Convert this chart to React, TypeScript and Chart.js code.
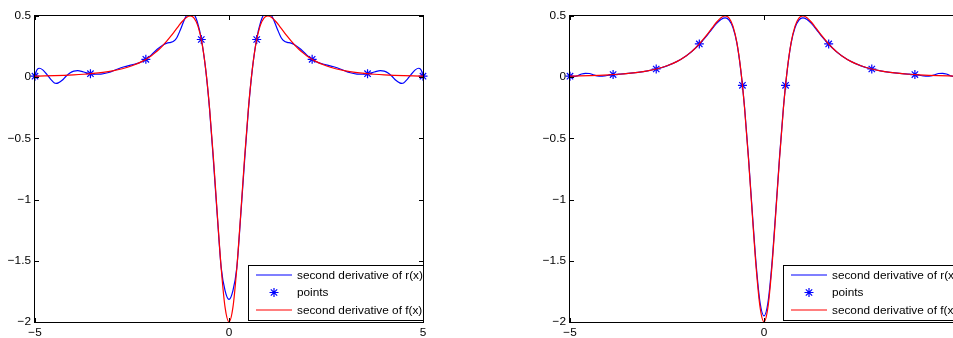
import React, { useEffect, useRef } from "react";
import { Chart, registerables } from "chart.js";

Chart.register(...registerables);

const FONT = "'Liberation Sans', Arial, Helvetica, sans-serif";
const FS = 11.8;

const legendLabels = ["second derivative of r(x)", "points", "second derivative of f(x)"];
const xTicks = [-5, 0, 5];
const yTicks = [-2, -1.5, -1, -0.5, 0, 0.5];

// second derivative of f(x) (red)
const fX = [-5, -4.75, -4.5, -4.25, -4, -3.75, -3.5, -3.25, -3, -2.75, -2.5, -2.25, -2, -1.9, -1.8, -1.7, -1.6, -1.5, -1.4, -1.3, -1.2, -1.1, -1, -0.9, -0.8, -0.7, -0.6, -0.5, -0.4, -0.3, -0.2, -0.1, 0, 0.1, 0.2, 0.3, 0.4, 0.5, 0.6, 0.7, 0.8, 0.9, 1, 1.1, 1.2, 1.3, 1.4, 1.5, 1.6, 1.7, 1.8, 1.9, 2, 2.25, 2.5, 2.75, 3, 3.25, 3.5, 3.75, 4, 4.25, 4.5, 4.75, 5];
const fY = [0.0084, 0.0102, 0.0125, 0.0154, 0.0191, 0.0241, 0.0307, 0.0397, 0.052, 0.0691, 0.0932, 0.1273, 0.176, 0.2007, 0.2288, 0.2606, 0.2961, 0.335, 0.3763, 0.4182, 0.4571, 0.4873, 0.5, 0.4823, 0.4171, 0.2842, 0.0636, -0.256, -0.6663, -1.1274, -1.5646, -1.883, -2, -1.883, -1.5646, -1.1274, -0.6663, -0.256, 0.0636, 0.2842, 0.4171, 0.4823, 0.5, 0.4873, 0.4571, 0.4182, 0.3763, 0.335, 0.2961, 0.2606, 0.2288, 0.2007, 0.176, 0.1273, 0.0932, 0.0691, 0.052, 0.0397, 0.0307, 0.0241, 0.0191, 0.0154, 0.0125, 0.0102, 0.0084];

// left panel: second derivative of r(x) (blue)
const leftRX = [-5, -4.97, -4.93, -4.89, -4.8, -4.7, -4.6, -4.5, -4.45, -4.4, -4.3, -4.2, -4.1, -4, -3.9, -3.8, -3.7, -3.57, -3.45, -3.3, -3.1, -2.9, -2.7, -2.5, -2.3, -2.14, -2, -1.85, -1.7, -1.6, -1.5, -1.43, -1.35, -1.25, -1.15, -1.05, -0.97, -0.9, -0.82, -0.71, -0.6, -0.5, -0.4, -0.3, -0.2, -0.1, 0, 0.1, 0.2, 0.3, 0.4, 0.5, 0.6, 0.71, 0.82, 0.9, 0.97, 1.05, 1.15, 1.25, 1.35, 1.43, 1.5, 1.6, 1.7, 1.85, 2, 2.14, 2.3, 2.5, 2.7, 2.9, 3.1, 3.3, 3.45, 3.57, 3.7, 3.8, 3.9, 4, 4.1, 4.2, 4.3, 4.4, 4.45, 4.5, 4.6, 4.7, 4.8, 4.89, 4.93, 4.97, 5];
const leftRY = [0.008, 0.045, 0.068, 0.073, 0.06, 0.025, -0.015, -0.047, -0.05, -0.046, -0.025, 0.008, 0.035, 0.05, 0.053, 0.048, 0.038, 0.029, 0.024, 0.025, 0.038, 0.063, 0.085, 0.101, 0.119, 0.146, 0.182, 0.228, 0.263, 0.278, 0.285, 0.293, 0.32, 0.39, 0.47, 0.525, 0.535, 0.515, 0.455, 0.308, 0.06, -0.265, -0.69, -1.14, -1.56, -1.745, -1.815, -1.745, -1.56, -1.14, -0.69, -0.265, 0.06, 0.308, 0.455, 0.515, 0.535, 0.525, 0.47, 0.39, 0.32, 0.293, 0.285, 0.278, 0.263, 0.228, 0.182, 0.146, 0.119, 0.101, 0.085, 0.063, 0.038, 0.025, 0.024, 0.029, 0.038, 0.048, 0.053, 0.05, 0.035, 0.008, -0.025, -0.046, -0.05, -0.047, -0.015, 0.025, 0.06, 0.073, 0.068, 0.045, 0.008];
const leftPtsX = [-5, -3.571, -2.143, -0.714, 0.714, 2.143, 3.571, 5];
const leftPtsY = [0.0084, 0.0286, 0.1461, 0.3081, 0.3081, 0.1461, 0.0286, 0.0084];

// right panel: second derivative of r(x) (blue)
const rightRX = [-5, -4.9, -4.8, -4.7, -4.6, -4.5, -4.4, -4.3, -4.2, -4.1, -4, -3.889, -3.75, -3.5, -3.25, -3, -2.75, -2.5, -2.25, -2, -1.9, -1.8, -1.7, -1.6, -1.5, -1.4, -1.3, -1.2, -1.1, -1, -0.9, -0.8, -0.7, -0.6, -0.5, -0.4, -0.3, -0.2, -0.1, 0, 0.1, 0.2, 0.3, 0.4, 0.5, 0.6, 0.7, 0.8, 0.9, 1, 1.1, 1.2, 1.3, 1.4, 1.5, 1.6, 1.7, 1.8, 1.9, 2, 2.25, 2.5, 2.75, 3, 3.25, 3.5, 3.75, 3.889, 4, 4.1, 4.2, 4.3, 4.4, 4.5, 4.6, 4.7, 4.8, 4.9, 5];
const rightRY = [0.008, 0.004, 0.012, 0.026, 0.032, 0.03, 0.02, 0.011, 0.008, 0.011, 0.016, 0.021, 0.025, 0.031, 0.04, 0.052, 0.069, 0.093, 0.127, 0.176, 0.2, 0.228, 0.259, 0.293, 0.33, 0.37, 0.41, 0.446, 0.473, 0.484, 0.466, 0.405, 0.28, 0.06, -0.25, -0.655, -1.11, -1.54, -1.845, -1.95, -1.845, -1.54, -1.11, -0.655, -0.25, 0.06, 0.28, 0.405, 0.466, 0.484, 0.473, 0.446, 0.41, 0.37, 0.33, 0.293, 0.259, 0.228, 0.2, 0.176, 0.127, 0.093, 0.069, 0.052, 0.04, 0.031, 0.025, 0.021, 0.016, 0.011, 0.008, 0.011, 0.02, 0.03, 0.032, 0.026, 0.012, 0.004, 0.008];
const rightPtsX = [-5, -3.889, -2.778, -1.667, -0.556, 0.556, 1.667, 2.778, 3.889, 5];
const rightPtsY = [0.0084, 0.0212, 0.0669, 0.272, -0.0661, -0.0661, 0.272, 0.0669, 0.0212, 0.0084];

const BLUE = "#0000ff";
const RED = "#ff0000";

const fmt = (v: number | string) => {
  const n = Number(v);
  return n === 0 ? "0" : String(n).replace("-", "\u2212");
};

function drawStar(ctx: CanvasRenderingContext2D, cx: number, cy: number, r: number) {
  const d = r * Math.SQRT1_2;
  ctx.beginPath();
  ctx.moveTo(cx - r, cy); ctx.lineTo(cx + r, cy);
  ctx.moveTo(cx, cy - r); ctx.lineTo(cx, cy + r);
  ctx.moveTo(cx - d, cy - d); ctx.lineTo(cx + d, cy + d);
  ctx.moveTo(cx - d, cy + d); ctx.lineTo(cx + d, cy - d);
  ctx.stroke();
}

const framePlugin = {
  id: "matlabFrame",
  afterDatasetsDraw(chart: any) {
    const { ctx, chartArea: a, scales } = chart;
    const L = a.left, R = a.right, T = a.top, B = a.bottom;
    ctx.save();
    ctx.strokeStyle = "#000";
    ctx.lineWidth = 1;
    ctx.strokeRect(L - 0.5, T - 0.5, R - L + 1, B - T + 1);
    const tl = 4;
    ctx.beginPath();
    yTicks.forEach((v) => {
      const py = Math.round(scales.y.getPixelForValue(v)) + 0.5;
      ctx.moveTo(L, py); ctx.lineTo(L + tl, py);
      ctx.moveTo(R, py); ctx.lineTo(R - tl, py);
    });
    xTicks.forEach((v) => {
      const px = Math.round(scales.x.getPixelForValue(v)) + 0.5;
      ctx.moveTo(px, B); ctx.lineTo(px, B - tl);
      ctx.moveTo(px, T); ctx.lineTo(px, T + tl);
    });
    ctx.stroke();

    // legend (south-east, inside the axes)
    const w = 175, h = 55;
    const bx = R - w, by = B - 2 - h;
    ctx.fillStyle = "#fff";
    ctx.fillRect(bx, by, w, h);
    ctx.strokeStyle = "#000";
    ctx.lineWidth = 1;
    ctx.strokeRect(Math.round(bx) + 0.5, Math.round(by) + 0.5, w, h);
    const ds = chart.data.datasets;
    const colors = [BLUE, BLUE, RED];
    const rows = [by + 10, by + 27.5, by + 45];
    ctx.font = `${FS}px ${FONT}`;
    ctx.textBaseline = "middle";
    ctx.textAlign = "left";
    ds.forEach((d: any, i: number) => {
      const cy = rows[i];
      ctx.strokeStyle = colors[i];
      ctx.lineWidth = 1.2;
      if (i !== 1) {
        ctx.beginPath();
        ctx.moveTo(bx + 8, Math.round(cy));
        ctx.lineTo(bx + 44, Math.round(cy));
        ctx.stroke();
      } else {
        drawStar(ctx, bx + 26, cy, 4.5);
      }
      ctx.fillStyle = "#000";
      ctx.fillText(d.label, bx + 49, cy + 0.5);
    });
    ctx.restore();
  },
};

type PanelProps = {
  rX: number[]; rY: number[]; pX: number[]; pY: number[];
  left: number; width: number; axisWidth: number; padRight: number;
};

function Panel({ rX, rY, pX, pY, left, width, axisWidth, padRight }: PanelProps) {
  const ref = useRef<HTMLCanvasElement>(null);
  useEffect(() => {
    const toPts = (xs: number[], ys: number[]) => xs.map((x, i) => ({ x, y: ys[i] }));
    const font = { family: FONT, size: FS };
    const chart = new Chart(ref.current as HTMLCanvasElement, {
      type: "scatter",
      data: {
        datasets: [
          {
            label: legendLabels[0], data: toPts(rX, rY), showLine: true,
            borderColor: BLUE, borderWidth: 1.2, pointRadius: 0,
            cubicInterpolationMode: "monotone", order: 2,
          } as any,
          {
            label: legendLabels[1], data: toPts(pX, pY), showLine: false,
            pointStyle: "star", pointRadius: 4.5, pointBorderColor: BLUE,
            pointBackgroundColor: BLUE, borderColor: BLUE, backgroundColor: BLUE,
            pointBorderWidth: 1.2, clip: false, order: 1,
          } as any,
          {
            label: legendLabels[2], data: toPts(fX, fY), showLine: true,
            borderColor: RED, borderWidth: 1.2, pointRadius: 0,
            cubicInterpolationMode: "monotone", order: 0,
          } as any,
        ],
      },
      options: {
        responsive: false,
        animation: false,
        devicePixelRatio: 1,
        events: [],
        layout: { padding: { top: 16, right: padRight, bottom: 0, left: 0 } },
        plugins: { legend: { display: false }, tooltip: { enabled: false } },
        scales: {
          x: {
            type: "linear", min: -5, max: 5,
            afterBuildTicks: (s: any) => { s.ticks = xTicks.map((v) => ({ value: v })); },
            afterFit: (s: any) => { s.height = 16; },
            grid: { display: false, drawTicks: false },
            border: { display: false },
            ticks: { padding: 4, color: "#000", font, maxRotation: 0, autoSkip: false, callback: fmt },
          },
          y: {
            type: "linear", min: -2, max: 0.5,
            afterBuildTicks: (s: any) => { s.ticks = yTicks.map((v) => ({ value: v })); },
            afterFit: (s: any) => { s.width = axisWidth; },
            grid: { display: false, drawTicks: false },
            border: { display: false },
            ticks: { padding: 4, color: "#000", font, autoSkip: false, callback: fmt },
          },
        },
      } as any,
      plugins: [framePlugin],
    });
    return () => chart.destroy();
  }, []);
  return (
    <canvas
      ref={ref}
      width={width}
      height={338}
      style={{ position: "absolute", left, top: 0, width, height: 338 }}
    />
  );
}

export default function App() {
  return (
    <div
      style={{
        position: "fixed", left: 0, top: 0, width: 953, height: 338,
        overflow: "hidden", background: "#fff",
      }}
    >
      <Panel rX={leftRX} rY={leftRY} pX={leftPtsX} pY={leftPtsY} left={0} width={440} axisWidth={35} padRight={17} />
      <Panel rX={rightRX} rY={rightRY} pX={rightPtsX} pY={rightPtsY} left={540} width={440} axisWidth={30} padRight={22} />
    </div>
  );
}
